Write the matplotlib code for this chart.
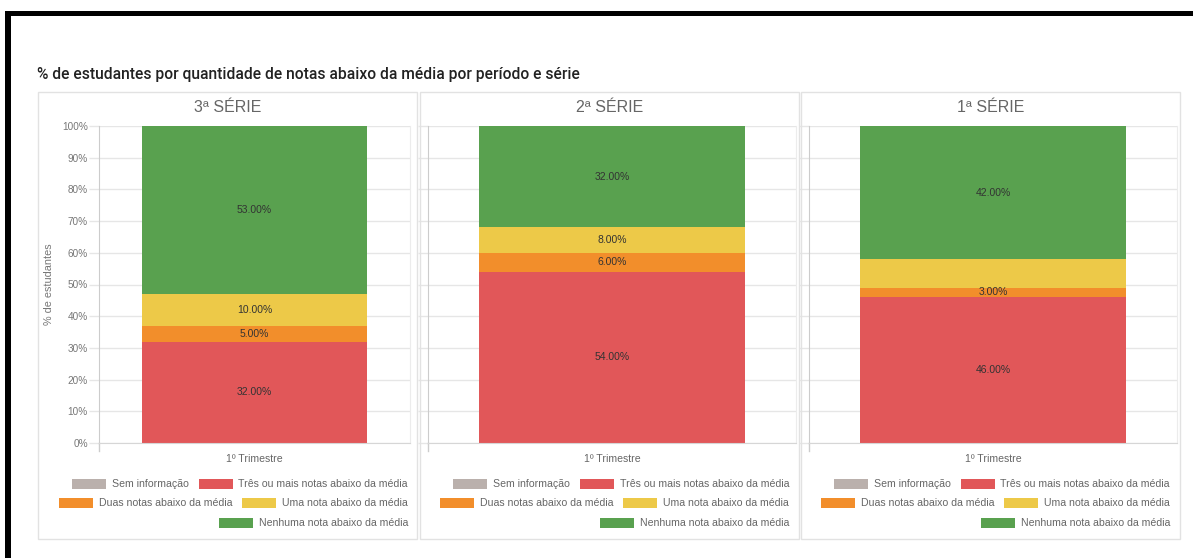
import matplotlib
matplotlib.use('Agg')
import matplotlib.pyplot as plt
from matplotlib.patches import Rectangle
from matplotlib.lines import Line2D

plt.rcParams['font.family'] = ['Liberation Sans', 'DejaVu Sans']

title = '% de estudantes por quantidade de notas abaixo da média por período e série'
series_names = ['3ª SÉRIE', '2ª SÉRIE', '1ª SÉRIE']
periods = ['1º Trimestre']
categories = ['Sem informação', 'Três ou mais notas abaixo da média',
              'Duas notas abaixo da média', 'Uma nota abaixo da média',
              'Nenhuma nota abaixo da média']
colors = ['#BAB0AC', '#E15759', '#F28E2B', '#EDC948', '#59A14F']

# one value per série (3ª, 2ª, 1ª), 1º Trimestre
sem_info = [0, 0, 0]
tres_ou_mais = [32, 54, 46]
duas = [5, 6, 3]
uma = [10, 8, 9]
nenhuma = [53, 32, 42]
# labels the original chart leaves out (série index, category index)
hidden_labels = [(2, 3)]

values = [sem_info, tres_ou_mais, duas, uma, nenhuma]
yticks = list(range(0, 101, 10))

W, H = 1193, 558
fig = plt.figure(figsize=(W / 100, H / 100), dpi=100)


def fx(x):
    return x / W


def fy(y):
    return 1 - y / H


# black frame of the screenshot
fig.add_artist(Rectangle((fx(5), fy(16)), (W - 5) / W, 5 / H, transform=fig.transFigure,
                         color='black', lw=0))
fig.add_artist(Rectangle((fx(5), 0), 6 / W, fy(11), transform=fig.transFigure,
                         color='black', lw=0))

fig.text(fx(37), fy(75), title, fontsize=11.25, color='#222222', fontweight='medium',
         va='center', ha='left', family=['Roboto', 'DejaVu Sans'])

panels = [(38, 417), (420, 799), (801, 1180)]
plots = [(99, 410), (428, 796), (809, 1177)]
legend_right = [408, 789, 1170]
legend_rows = [[0, 1], [2, 3], [4]]
row_y = [484, 503, 523]
top, bottom = 126, 443

renderer = fig.canvas.get_renderer()

for i, name in enumerate(series_names):
    x0, x1 = panels[i]
    fig.add_artist(Rectangle((fx(x0), fy(539)), (x1 - x0) / W, (539 - 92) / H,
                             transform=fig.transFigure, fill=False, ec='#e2e2e2', lw=1))
    fig.text(fx((x0 + x1) / 2), fy(108), name, fontsize=11.5, color='#666666',
             ha='center', va='center')

    l, r = plots[i]
    ax = fig.add_axes([fx(l), fy(bottom), (r - l) / W, (bottom - top) / H])
    base = 0
    for c, cat in enumerate(categories):
        v = values[c][i]
        ax.bar(0, v, bottom=base, width=1, color=colors[c], edgecolor='none')
        if v > 0 and (i, c) not in hidden_labels:
            ax.text(0, base + v / 2, f'{v:.2f}%', ha='center', va='center',
                    fontsize=7.5, color='#333333')
        base += v
    ax.set_xlim(-0.69, 0.69)
    ax.set_ylim(0, 100)
    ax.set_yticks(yticks)
    ax.set_yticklabels([f'{t}%' for t in yticks] if i == 0 else [])
    ax.set_xticks([0])
    ax.set_xticklabels(periods)
    ax.tick_params(axis='x', length=0, pad=8, labelsize=7.6, labelcolor='#666666')
    ax.tick_params(axis='y', length=7, width=1, color='#e6e6e6', pad=1,
                   labelsize=7.2, labelcolor='#777777')
    ax.grid(axis='y', color='#e6e6e6', lw=1)
    ax.set_axisbelow(True)
    ax.spines['top'].set_visible(False)
    ax.spines['right'].set_color('#ececec')
    ax.spines['left'].set_color('#cccccc')
    ax.spines['bottom'].set_color('#d6d6d6')
    ax.add_line(Line2D([0, 0], [-0.025, 0], transform=ax.transAxes, color='#cccccc',
                       lw=1, clip_on=False))
    if i == 0:
        ax.set_ylabel('% de estudantes', fontsize=7.8, color='#777777', labelpad=6)

    # legend laid out right-aligned, row by row
    for row, items in enumerate(legend_rows):
        x = legend_right[i]
        y = row_y[row]
        for c in reversed(items):
            t = fig.text(fx(x), fy(y), categories[c], fontsize=7.6, color='#666666',
                         ha='right', va='center')
            w = t.get_window_extent(renderer).width
            pr = x - w - 6
            fig.add_artist(Rectangle((fx(pr - 34), fy(y + 5)), 34 / W, 10 / H,
                                     transform=fig.transFigure, color=colors[c], lw=0))
            x = pr - 34 - 10

fig.savefig('out.png', dpi=100)
